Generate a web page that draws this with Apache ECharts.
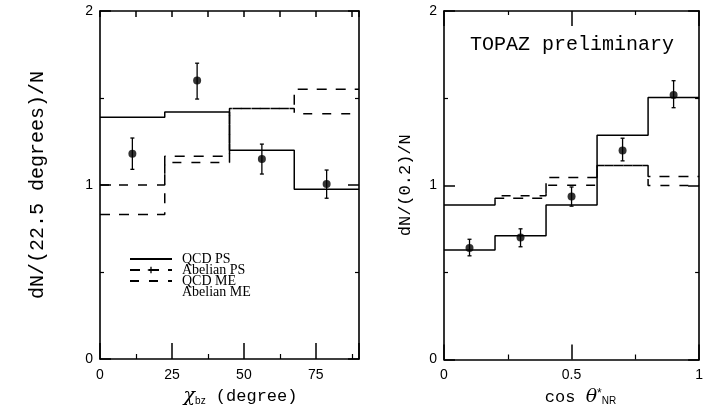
<!DOCTYPE html>
<html><head><meta charset="utf-8">
<script src="https://cdn.jsdelivr.net/npm/echarts@6/dist/echarts.min.js"></script>
<style>html,body{margin:0;padding:0;background:#fff}#c{width:706px;height:412px}</style>
</head><body><div id="c"></div>
<script>
// ---- Left panel (Bengtsson-Zerwas angle) ----
const leftEdges = [0, 22.5, 45, 67.5, 90];
const leftQcdPS = [1.39, 1.42, 1.20, 0.975];
const leftAbelPS = [0.83, 1.165, 1.44, 1.55];
const leftQcdME = [1.0, 1.13, 1.44, 1.41];
const leftDataX = [11.25, 33.75, 56.25, 78.75];
const leftDataY = [1.18, 1.60, 1.15, 1.006];
const leftErrLo = [1.09, 1.494, 1.063, 0.924];
const leftErrHi = [1.27, 1.70, 1.235, 1.086];
// ---- Right panel (cos theta*_NR) ----
const rightEdges = [0, 0.2, 0.4, 0.6, 0.8, 1.0];
const rightQcdPS = [0.628, 0.71, 0.886, 1.287, 1.503];
const rightAbelPS = [0.886, 0.925, 1.045, 1.113, 1.05];
const rightQcdME = [0.886, 0.94, 1.0, 1.113, 0.998];
const rightDataX = [0.1, 0.3, 0.5, 0.7, 0.9];
const rightDataY = [0.64, 0.70, 0.935, 1.20, 1.518];
const rightErrLo = [0.595, 0.647, 0.88, 1.14, 1.445];
const rightErrHi = [0.69, 0.75, 0.99, 1.27, 1.60];
const yTicks = ['0', '1', '2'];

function stepData(edges, vals) {
  return edges.map((e, i) => [e, vals[Math.min(i, vals.length - 1)]]);
}
function errData(xs, lo, hi) { return xs.map((x, i) => [x, lo[i], hi[i]]); }
function errRender(params, api) {
  const x = api.value(0);
  const a = api.coord([x, api.value(1)]);
  const b = api.coord([x, api.value(2)]);
  const st = { stroke: '#000', lineWidth: 1.3 };
  return { type: 'group', children: [
    { type: 'line', shape: { x1: a[0], y1: a[1], x2: b[0], y2: b[1] }, style: st },
    { type: 'line', shape: { x1: a[0] - 2, y1: a[1], x2: a[0] + 2, y2: a[1] }, style: st },
    { type: 'line', shape: { x1: b[0] - 2, y1: b[1], x2: b[0] + 2, y2: b[1] }, style: st }
  ]};
}
const K = '#000';
function lineAx() { return { show: true, onZero: false, lineStyle: { color: K, width: 1.6 } }; }
const labelFont = { color: K, fontSize: 14, fontFamily: 'Liberation Sans' };
const plusPath = 'path://M4,0H6V4H10V6H6V10H4V6H0V4H4Z';

function xBottom(grid, min, max, interval, majorLen, name, nameOpts) {
  return Object.assign({
    gridIndex: grid, type: 'value', position: 'bottom', min, max, interval,
    axisLine: lineAx(),
    axisTick: { show: true, inside: true, length: majorLen, lineStyle: { color: K, width: 1.5 } },
    minorTick: { show: true, splitNumber: 2, length: 5, lineStyle: { color: K, width: 1.2 } },
    splitLine: { show: false }, minorSplitLine: { show: false },
    axisLabel: Object.assign({ margin: 9, showMaxLabel: grid === 1 }, labelFont),
    name, nameLocation: 'middle'
  }, nameOpts);
}
function xTop(grid, min, max, interval, majorLen, minorLen) {
  return {
    gridIndex: grid, type: 'value', position: 'top', min, max, interval,
    axisLine: lineAx(),
    axisTick: { show: true, inside: true, length: majorLen, lineStyle: { color: K, width: 1.5 } },
    minorTick: { show: minorLen > 0, splitNumber: 2, length: minorLen, lineStyle: { color: K, width: 1.2 } },
    splitLine: { show: false }, minorSplitLine: { show: false }, axisLabel: { show: false }
  };
}
function yAx(grid, pos, withLabel, name, gap, fs) {
  return {
    gridIndex: grid, type: 'value', position: pos, min: 0, max: 2, interval: 1,
    axisLine: lineAx(),
    axisTick: { show: true, inside: true, length: 11, lineStyle: { color: K, width: 1.5 } },
    minorTick: { show: true, splitNumber: 2, length: 4, lineStyle: { color: K, width: 1.2 } },
    splitLine: { show: false }, minorSplitLine: { show: false },
    axisLabel: withLabel ? Object.assign({ margin: 7, formatter: v => yTicks[Math.round(v)] }, labelFont) : { show: false },
    name: withLabel ? name : '', nameLocation: 'middle', nameGap: gap,
    nameTextStyle: { color: K, fontSize: fs, fontFamily: 'Liberation Mono' }
  };
}

const chart = echarts.init(document.getElementById('c'));
chart.setOption({
  animation: false,
  backgroundColor: '#fff',
  color: [K],
  title: { text: 'TOPAZ preliminary', left: 465, top: 30,
    textStyle: { color: K, fontSize: 20, fontWeight: 'normal', fontFamily: 'Liberation Mono' } },
  legend: {
    data: [
      { name: 'QCD PS' },
      { name: 'Abelian PS', itemStyle: { opacity: 1, color: K } },
      { name: 'QCD ME' },
      { name: 'Abelian ME' }
    ],
    orient: 'vertical', left: 124, top: 247, itemWidth: 42, itemHeight: 8, itemGap: -3,
    itemStyle: { opacity: 0 },
    textStyle: { color: K, fontSize: 14, lineHeight: 11, fontFamily: 'Liberation Serif', padding: [0, 0, 0, 5] },
    selectedMode: false
  },
  grid: [
    { left: 100, top: 11, width: 259, height: 348 },
    { left: 444, top: 11, width: 258, height: 349 }
  ],
  xAxis: [
    xBottom(0, 0, 90, 25, 16, '{c|χ}{s|bz} (degree)', {
      nameGap: 28,
      nameTextStyle: { color: K, fontSize: 17, fontFamily: 'Liberation Mono', padding: [0, 0, 0, 22],
        rich: { c: { fontSize: 19, fontFamily: 'DejaVu Serif', fontStyle: 'italic', color: K },
                s: { fontSize: 10, fontFamily: 'Liberation Sans', verticalAlign: 'bottom', padding: [8, 0, 0, 0], color: K } } }
    }),
    xTop(0, 0, 90, 12.5, 6, 0),
    xBottom(1, 0, 1, 0.5, 15, 'cos {t|θ}{u|*}{s|NR}', {
      nameGap: 28,
      nameTextStyle: { color: K, fontSize: 17, fontFamily: 'Liberation Mono', padding: [0, 0, 0, 18],
        rich: { t: { fontSize: 19, fontFamily: 'DejaVu Serif', fontStyle: 'italic', color: K },
                u: { fontSize: 12, fontFamily: 'Liberation Sans', padding: [0, 0, 8, 0], color: K },
                s: { fontSize: 10, fontFamily: 'Liberation Sans', padding: [8, 0, 0, 0], color: K } } }
    }),
    xTop(1, 0, 1, 0.5, 15, 4)
  ],
  yAxis: [
    yAx(0, 'left', true, 'dN/(22.5 degrees)/N', 52, 20),
    yAx(0, 'right', false),
    yAx(1, 'left', true, 'dN/(0.2)/N', 30, 17),
    yAx(1, 'right', false)
  ],
  series: [
    { name: 'QCD PS', type: 'line', xAxisIndex: 0, yAxisIndex: 0, step: 'end', symbol: 'none',
      itemStyle: { color: K }, data: stepData(leftEdges, leftQcdPS), lineStyle: { color: K, width: 1.5 }, z: 3 },
    { name: 'Abelian PS', type: 'line', xAxisIndex: 0, yAxisIndex: 0, step: 'end', symbol: plusPath, showSymbol: false,
      symbolSize: 8, itemStyle: { color: K },
      data: stepData(leftEdges, leftAbelPS), lineStyle: { color: K, width: 1.5, type: [10, 9] } },
    { name: 'QCD ME', type: 'line', xAxisIndex: 0, yAxisIndex: 0, step: 'end', symbol: 'none',
      itemStyle: { color: K }, data: stepData(leftEdges, leftQcdME), lineStyle: { color: K, width: 1.5, type: [9, 10] } },
    { name: 'Abelian ME', type: 'line', xAxisIndex: 0, yAxisIndex: 0, symbol: 'none', data: [],
      itemStyle: { color: K, opacity: 0 }, lineStyle: { color: K, width: 1, opacity: 0 } },
    { type: 'custom', xAxisIndex: 0, yAxisIndex: 0, renderItem: errRender,
      data: errData(leftDataX, leftErrLo, leftErrHi), encode: { x: 0, y: [1, 2] }, z: 4 },
    { type: 'scatter', xAxisIndex: 0, yAxisIndex: 0, symbolSize: 8, itemStyle: { color: K },
      data: leftDataX.map((x, i) => [x, leftDataY[i]]), z: 5 },

    { name: 'QCD PS', type: 'line', xAxisIndex: 2, yAxisIndex: 2, step: 'end', symbol: 'none',
      itemStyle: { color: K }, data: stepData(rightEdges, rightQcdPS), lineStyle: { color: K, width: 1.5 }, z: 3 },
    { name: 'Abelian PS', type: 'line', xAxisIndex: 2, yAxisIndex: 2, step: 'end', symbol: 'none',
      itemStyle: { color: K }, data: stepData(rightEdges, rightAbelPS), lineStyle: { color: K, width: 1.5, type: [10, 9] } },
    { name: 'QCD ME', type: 'line', xAxisIndex: 2, yAxisIndex: 2, step: 'end', symbol: 'none',
      itemStyle: { color: K }, data: stepData(rightEdges, rightQcdME), lineStyle: { color: K, width: 1.5, type: [9, 10], dashOffset: 9 } },
    { type: 'custom', xAxisIndex: 2, yAxisIndex: 2, renderItem: errRender,
      data: errData(rightDataX, rightErrLo, rightErrHi), encode: { x: 0, y: [1, 2] }, z: 4 },
    { type: 'scatter', xAxisIndex: 2, yAxisIndex: 2, symbolSize: 8, itemStyle: { color: K },
      data: rightDataX.map((x, i) => [x, rightDataY[i]]), z: 5 }
  ]
});
</script></body></html>
